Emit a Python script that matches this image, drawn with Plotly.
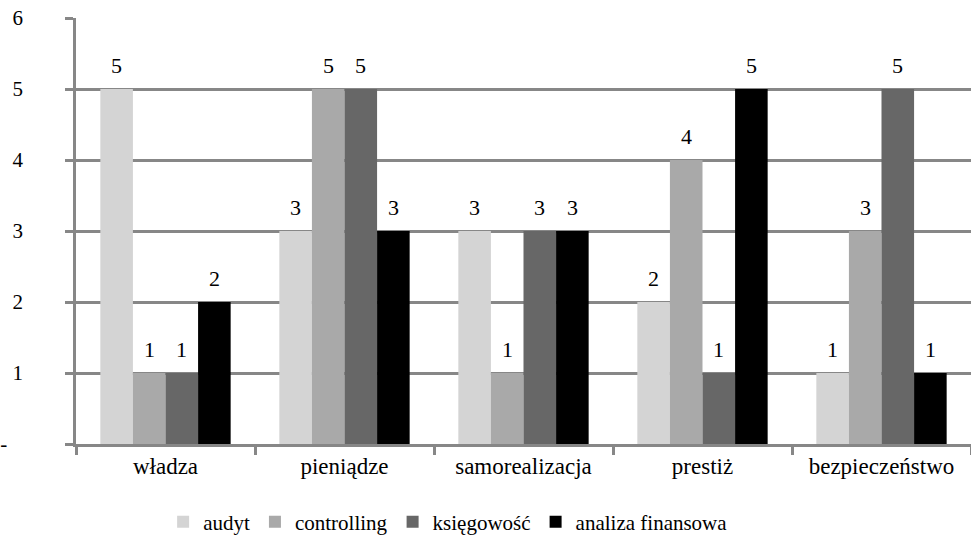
import plotly.graph_objects as go

# Categories and series
categories = ["władza", "pieniądze", "samorealizacja", "prestiż", "bezpieczeństwo"]
series_names = ["audyt", "controlling", "księgowość", "analiza finansowa"]
audyt = [5, 3, 3, 2, 1]
controlling = [1, 5, 1, 4, 3]
ksiegowosc = [1, 5, 3, 1, 5]
analiza = [2, 3, 3, 5, 1]
y_ticks = [0, 1, 2, 3, 4, 5, 6]
y_ticktext = ["-\u00a0\u00a0\u00a0", "1", "2", "3", "4", "5", "6"]

series_values = [audyt, controlling, ksiegowosc, analiza]
colors = ["#d4d4d4", "#a9a9a9", "#676767", "#000000"]

FONT = "Liberation Serif"
GRID = "#878787"
BARGAP = 0.272

fig = go.Figure()
for name, vals, col in zip(series_names, series_values, colors):
    fig.add_trace(go.Bar(
        x=categories, y=vals, name=name,
        marker=dict(color=col, line=dict(width=0)),
    ))

# Value labels above each bar
n = len(series_values)
bar_w = (1 - BARGAP) / n
annotations = []
for j, vals in enumerate(series_values):
    off = (j - (n - 1) / 2) * bar_w
    for i, v in enumerate(vals):
        annotations.append(dict(
            x=i + off, y=v, xref="x", yref="y", text=str(v),
            showarrow=False, yanchor="bottom", yshift=9,
            font=dict(family=FONT, size=22, color="black"),
        ))

fig.update_layout(
    width=971, height=545,
    margin=dict(l=71, r=0, t=18, b=101),
    paper_bgcolor="white", plot_bgcolor="white",
    barmode="group", bargap=BARGAP, bargroupgap=0,
    font=dict(family=FONT, size=21, color="black"),
    annotations=annotations,
    legend=dict(
        orientation="h", xref="container", yref="container",
        x=0.168, xanchor="left", y=0.042, yanchor="middle",
        font=dict(family=FONT, size=21, color="black"),
    ),
    xaxis=dict(
        showline=True, linecolor=GRID, linewidth=2.5,
        ticks="outside", tickson="boundaries", ticklen=8, tickwidth=2.5, tickcolor=GRID,
        showgrid=False,
        tickfont=dict(family=FONT, size=23, color="black"),
    ),
    yaxis=dict(
        range=[0, 6], tickvals=y_ticks, ticktext=y_ticktext,
        showline=True, linecolor=GRID, linewidth=2.5,
        ticks="outside", ticklen=8, tickwidth=2.5, tickcolor=GRID,
        showgrid=True, gridcolor=GRID, gridwidth=2.5, zeroline=False,
        ticklabelstandoff=38,
        tickfont=dict(family=FONT, size=21, color="black"),
    ),
)

fig.write_html("out.html")
